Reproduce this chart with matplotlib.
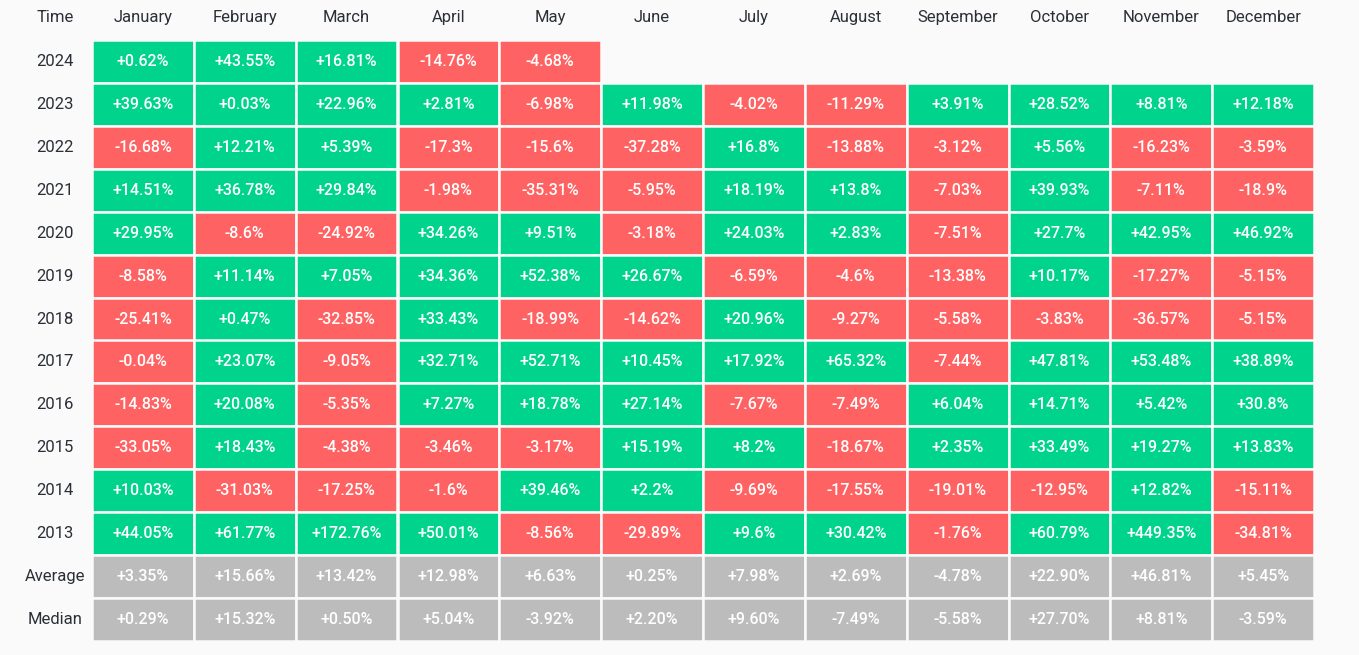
import matplotlib
matplotlib.use("Agg")
import matplotlib.pyplot as plt
from matplotlib.patches import Rectangle

months = ["January", "February", "March", "April", "May", "June", "July",
          "August", "September", "October", "November", "December"]
row_labels = ["2024", "2023", "2022", "2021", "2020", "2019", "2018", "2017",
              "2016", "2015", "2014", "2013", "Average", "Median"]

y2024 = [0.62, 43.55, 16.81, -14.76, -4.68, None, None, None, None, None, None, None]
y2023 = [39.63, 0.03, 22.96, 2.81, -6.98, 11.98, -4.02, -11.29, 3.91, 28.52, 8.81, 12.18]
y2022 = [-16.68, 12.21, 5.39, -17.3, -15.6, -37.28, 16.8, -13.88, -3.12, 5.56, -16.23, -3.59]
y2021 = [14.51, 36.78, 29.84, -1.98, -35.31, -5.95, 18.19, 13.8, -7.03, 39.93, -7.11, -18.9]
y2020 = [29.95, -8.6, -24.92, 34.26, 9.51, -3.18, 24.03, 2.83, -7.51, 27.7, 42.95, 46.92]
y2019 = [-8.58, 11.14, 7.05, 34.36, 52.38, 26.67, -6.59, -4.6, -13.38, 10.17, -17.27, -5.15]
y2018 = [-25.41, 0.47, -32.85, 33.43, -18.99, -14.62, 20.96, -9.27, -5.58, -3.83, -36.57, -5.15]
y2017 = [-0.04, 23.07, -9.05, 32.71, 52.71, 10.45, 17.92, 65.32, -7.44, 47.81, 53.48, 38.89]
y2016 = [-14.83, 20.08, -5.35, 7.27, 18.78, 27.14, -7.67, -7.49, 6.04, 14.71, 5.42, 30.8]
y2015 = [-33.05, 18.43, -4.38, -3.46, -3.17, 15.19, 8.2, -18.67, 2.35, 33.49, 19.27, 13.83]
y2014 = [10.03, -31.03, -17.25, -1.6, 39.46, 2.2, -9.69, -17.55, -19.01, -12.95, 12.82, -15.11]
y2013 = [44.05, 61.77, 172.76, 50.01, -8.56, -29.89, 9.6, 30.42, -1.76, 60.79, 449.35, -34.81]
average = [3.35, 15.66, 13.42, 12.98, 6.63, 0.25, 7.98, 2.69, -4.78, 22.90, 46.81, 5.45]
median = [0.29, 15.32, 0.50, 5.04, -3.92, 2.20, 9.60, -7.49, -5.58, 27.70, 8.81, -3.59]

year_rows = [y2024, y2023, y2022, y2021, y2020, y2019, y2018, y2017,
             y2016, y2015, y2014, y2013]
stat_rows = [average, median]

GREEN = "#00D38B"
RED = "#FF6262"
GRAY = "#BCBCBC"
BG = "#FAFAFA"
TXT = "#2B2F36"

W, H = 1359, 655
fig = plt.figure(figsize=(W / 100, H / 100), dpi=100, facecolor=BG)
left, right, top, bottom = 92, 1314, 40, 641
ax = fig.add_axes([left / W, 1 - bottom / H, (right - left) / W, (bottom - top) / H])
ax.set_facecolor(BG)
ax.set_xlim(0, 12)
ax.set_ylim(14, 0)
ax.axis("off")

cell_font = dict(family="Roboto", fontsize=11.5, fontweight="medium", color="white",
                 ha="center", va="center")
lab_font = dict(family="Roboto", fontsize=12, color=TXT, ha="center", va="center")

all_rows = year_rows + stat_rows
for r, row in enumerate(all_rows):
    is_stat = r >= len(year_rows)
    for c, v in enumerate(row):
        if v is None:
            continue
        if is_stat:
            color = GRAY
            label = f"{v:+.2f}%"
        else:
            color = GREEN if v >= 0 else RED
            label = f"{v:+g}%"
        ax.add_patch(Rectangle((c, r), 1, 1, facecolor=color, edgecolor=BG,
                               linewidth=1.8))
        ax.text(c + 0.5, r + 0.5, label, **cell_font)
    ax.text(-0.36, r + 0.5, row_labels[r], clip_on=False, **lab_font)

ax.text(-0.36, -0.53, "Time", clip_on=False, **lab_font)
for c, m in enumerate(months):
    ax.text(c + 0.5, -0.53, m, clip_on=False, **lab_font)

fig.savefig("out.png", dpi=100, facecolor=BG)
